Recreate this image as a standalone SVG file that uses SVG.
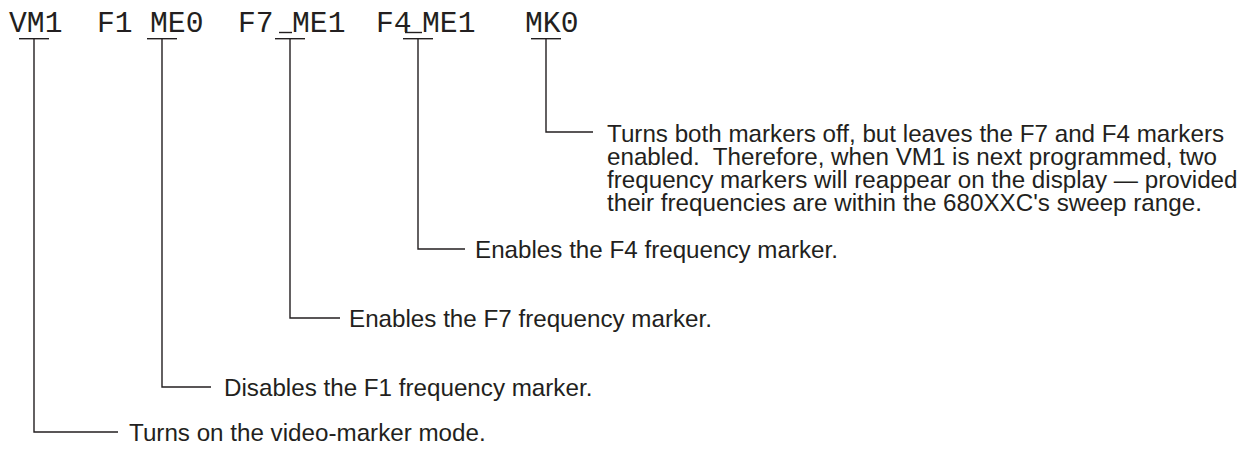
<svg xmlns="http://www.w3.org/2000/svg" width="1242" height="467" viewBox="0 0 1242 467">
<style>
.cmd{font-family:"Liberation Mono","Courier New",monospace;font-size:29.7px;fill:#231f20;}
.lbl{font-family:"Liberation Sans",Arial,sans-serif;font-size:24.2px;fill:#231f20;}
.ln{stroke:#231f20;stroke-width:1.4;fill:none;}
</style>
<rect width="1242" height="467" fill="#ffffff"/>
<g id="commands">
<text class="cmd" x="9" y="32">VM1</text>
<text class="cmd" x="97" y="32">F1</text>
<text class="cmd" x="150" y="32">ME0</text>
<text class="cmd" x="238" y="32">F7</text>
<text class="cmd" x="292" y="32">ME1</text>
<text class="cmd" x="376" y="32">F4</text>
<text class="cmd" x="422" y="32">ME1</text>
<text class="cmd" x="525" y="32">MK0</text>
<line class="ln" x1="279" y1="32.5" x2="292" y2="32.5"/>
<line class="ln" x1="405" y1="32.5" x2="422" y2="32.5"/>
</g>
<g id="connectors">
<line class="ln" x1="19" y1="38.7" x2="49" y2="38.7"/>
<polyline class="ln" points="34,38.7 34,432 118,432"/>
<line class="ln" x1="147" y1="38.7" x2="177" y2="38.7"/>
<polyline class="ln" points="162,38.7 162,387 211,387"/>
<line class="ln" x1="275" y1="38.7" x2="305" y2="38.7"/>
<polyline class="ln" points="290,38.7 290,318 340,318"/>
<line class="ln" x1="403" y1="38.7" x2="433" y2="38.7"/>
<polyline class="ln" points="418,38.7 418,249 465,249"/>
<line class="ln" x1="531" y1="38.7" x2="561" y2="38.7"/>
<polyline class="ln" points="546,38.7 546,132 593,132"/>
</g>
<g id="note-mk0">
<text class="lbl" x="607" y="142">Turns both markers off, but leaves the F7 and F4 markers</text>
<text class="lbl" x="607" y="165" xml:space="preserve">enabled.  Therefore, when VM1 is next programmed, two</text>
<text class="lbl" x="607" y="188">frequency markers will reappear on the display — provided</text>
<text class="lbl" x="607" y="211">their frequencies are within the 680XXC's sweep range.</text>
</g>
<g id="note-f4">
<text class="lbl" x="475" y="258">Enables the F4 frequency marker.</text>
</g>
<g id="note-f7">
<text class="lbl" x="349" y="327">Enables the F7 frequency marker.</text>
</g>
<g id="note-me0">
<text class="lbl" x="224" y="396">Disables the F1 frequency marker.</text>
</g>
<g id="note-vm1">
<text class="lbl" x="129" y="441">Turns on the video-marker mode.</text>
</g>
</svg>
